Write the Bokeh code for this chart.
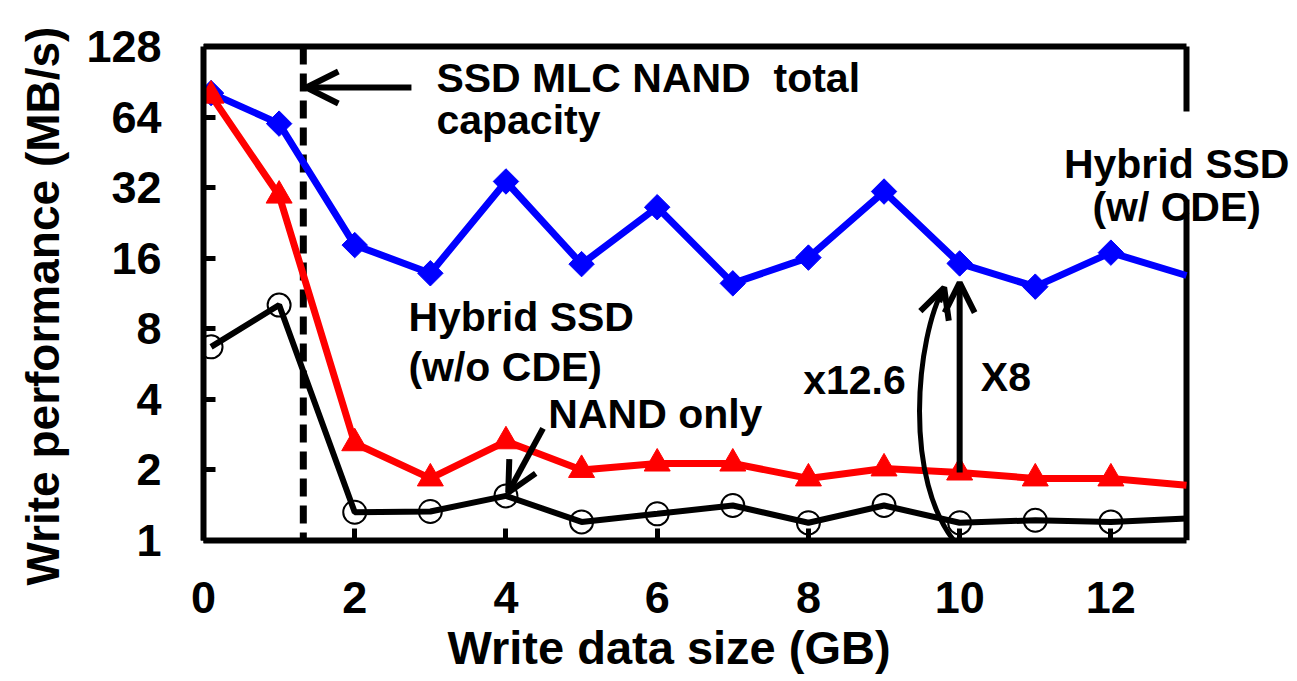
import math
from bokeh.plotting import figure
from bokeh.models import (Range1d, FixedTicker, CustomJSTickFormatter, Label,
                          Arrow, OpenHead, Title)
from bokeh.embed import file_html
from bokeh.resources import INLINE

# ---------------- data ----------------
x_gb = [0.1, 1, 2, 3, 4, 5, 6, 7, 8, 9, 10, 11, 12, 13]
hybrid_cde = [81, 60, 18.2, 13.8, 34.0, 15.1, 26.4, 12.5, 16.1, 30.8, 15.2, 12.1, 16.9, 13.5]
hybrid_no_cde = [79, 29.6, 2.6, 1.84, 2.65, 2.0, 2.13, 2.13, 1.84, 2.03, 1.95, 1.84, 1.84, 1.72]
nand_only = [6.7, 10.1, 1.32, 1.33, 1.55, 1.2, 1.3, 1.41, 1.19, 1.41, 1.19, 1.22, 1.2, 1.24]
y_ticks = [1, 2, 4, 8, 16, 32, 64, 128]
x_ticks = [0, 2, 4, 6, 8, 10, 12]
x_max = 13
capacity_gb = 1.32  # SSD MLC NAND total capacity marker

FONT = "Liberation Sans"

# layout (pixels)
W, H = 1297, 681
LEFT, TOP, BOTTOM = 203, 38, 141
BOX_RIGHT_PX, BOX_TOP_PX = 1186, 46
px_per_gb = (BOX_RIGHT_PX - LEFT) / x_max
px_per_oct = (H - BOTTOM - BOX_TOP_PX) / 7.0
x_end = x_max + (W - BOX_RIGHT_PX) / px_per_gb
y_end = 2 ** (7 + (BOX_TOP_PX - TOP) / px_per_oct)

p = figure(width=W, height=H, output_backend="svg", toolbar_location=None,
           y_axis_type="log", x_range=Range1d(0, x_end), y_range=Range1d(1, y_end),
           min_border_left=LEFT, min_border_right=0, min_border_top=TOP,
           min_border_bottom=BOTTOM)
p.background_fill_color = "white"
p.border_fill_color = "white"
p.outline_line_color = None
p.xgrid.visible = False
p.ygrid.visible = False

for ax in (p.xaxis[0], p.yaxis[0]):
    ax.axis_line_color = "black"
    ax.axis_line_width = 6
    ax.major_tick_line_width = 5
    ax.major_tick_line_color = "black"
    ax.major_tick_in = 12
    ax.major_tick_out = 0
    ax.minor_tick_line_color = None
    ax.major_label_text_font = FONT
    ax.major_label_text_font_style = "bold"
    ax.major_label_text_font_size = "45px"
    ax.major_label_text_color = "black"
    ax.formatter = CustomJSTickFormatter(code="return String(Math.round(tick));")

p.yaxis.ticker = FixedTicker(ticks=y_ticks)
p.xaxis.ticker = FixedTicker(ticks=x_ticks)
p.yaxis.bounds = (y_ticks[0], y_ticks[-1])
p.xaxis.bounds = (0, x_max)
p.yaxis.major_label_standoff = 42
p.xaxis.major_label_standoff = 41

# top and right sides of the box
p.line([0, x_max], [y_ticks[-1], y_ticks[-1]], line_color="black", line_width=6)
p.line([x_max, x_max], [y_ticks[0], y_ticks[-1]], line_color="black", line_width=6)

# vertical dashed capacity line
p.line([capacity_gb, capacity_gb], [y_ticks[-1], y_ticks[0]], line_color="black",
       line_width=7, line_dash="18 9")

# series
p.line(x_gb, hybrid_cde, line_color="#0000FF", line_width=7)
p.scatter(x_gb[:-1], hybrid_cde[:-1], marker="square", angle=math.pi / 4, size=18,
          fill_color="#0000FF", line_color="#0000FF")
p.line(x_gb, hybrid_no_cde, line_color="#FF0000", line_width=7)
p.scatter(x_gb[:-1], hybrid_no_cde[:-1], marker="triangle", size=26,
          fill_color="#FF0000", line_color="#FF0000")
p.line(x_gb, nand_only, line_color="black", line_width=6)
p.scatter(x_gb[:-1], nand_only[:-1], marker="circle", size=23,
          fill_color=None, line_color="black", line_width=2)

# curved arrow (x12.6)
p.bezier(x0=[9.98], y0=[0.95], x1=[9.795], y1=[12.0],
         cx0=[9.23], cy0=[1.78], cx1=[9.43], cy1=[7.5],
         line_color="black", line_width=5)


def arrow(xs, ys, xe, ye, size=32):
    p.add_layout(Arrow(end=OpenHead(size=size, line_width=6, line_color="black"),
                       x_start=xs, y_start=ys, x_end=xe, y_end=ye,
                       line_color="black", line_width=6))


arrow(2.75, 85.6, 1.36, 85.6)                    # capacity arrow
arrow(4.49, 3.01, 4.03, 1.6, size=30)            # NAND only arrow
arrow(x_gb[10], hybrid_no_cde[10], x_gb[10], 12.6, size=30)  # X8
arrow(9.73, 10.4, 9.795, 12.0, size=30)          # head of curved arrow


def label(x, y, text, size="41px", align="left", bg=None, angle=0, pad=0):
    kw = {}
    if bg:
        kw = dict(background_fill_color=bg, padding=pad)
    p.add_layout(Label(x=x, y=y, text=text, text_font=FONT, text_font_style="bold",
                       text_font_size=size, text_color="black", text_align=align,
                       text_baseline="alphabetic", angle=angle, **kw))


label(3.08, 93.5, "SSD MLC NAND\u00a0 total")
label(3.08, 61.9, "capacity")
label(2.71, 8.94, "Hybrid SSD")
label(2.71, 5.48, "(w/o CDE)")
label(4.56, 3.45, "NAND only")
label(7.93, 4.82, "x12.6")
label(10.28, 4.96, "X8")
label(12.87, 43.9, "Hybrid SSD", align="center", bg="white", pad=(12, 12, 30, 12))
label(12.87, 26.4, "(w/ CDE)", align="center")

# axis titles
p.add_layout(Title(text="Write data size (GB)", align="left", offset=244,
                   vertical_align="top", standoff=10, text_font=FONT,
                   text_font_style="bold", text_font_size="47px",
                   text_color="black"), "below")
p.add_layout(Title(text="Write performance (MB/s)", align="left", offset=-45,
                   vertical_align="top", standoff=26, text_font=FONT,
                   text_font_style="bold", text_font_size="46px",
                   text_color="black"), "left")

open("out.html", "w").write(file_html(p, INLINE))
